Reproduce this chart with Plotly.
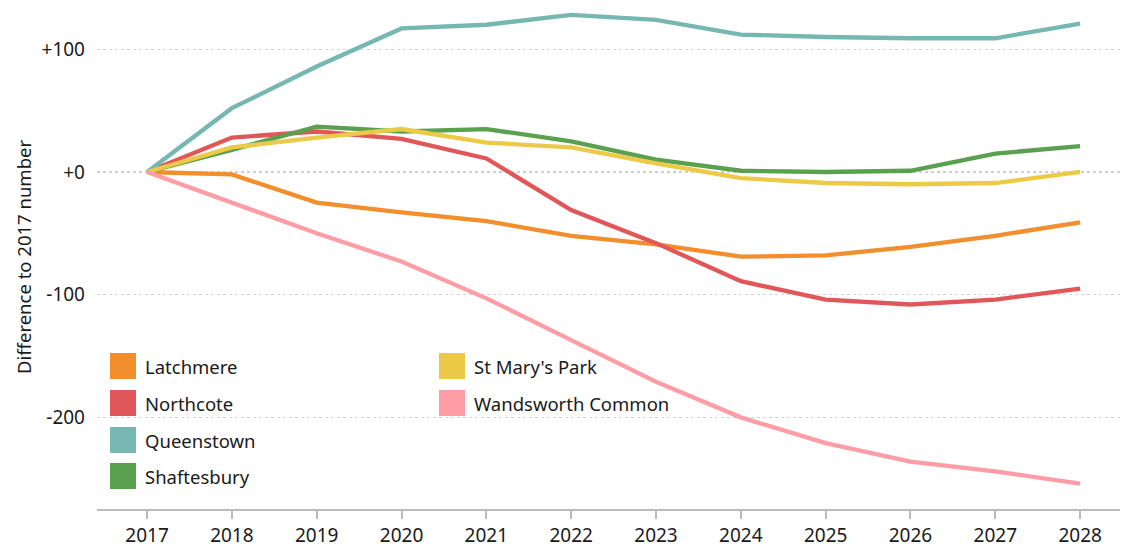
import plotly.graph_objects as go

years = [2017, 2018, 2019, 2020, 2021, 2022, 2023, 2024, 2025, 2026, 2027, 2028]

series_names = ["Latchmere", "Northcote", "Queenstown", "Shaftesbury", "St Mary's Park", "Wandsworth Common"]
series_colors = ["#f28e2b", "#e15759", "#76b7b2", "#59a14f", "#edc948", "#ff9da7"]

latchmere = [0, -2, -25, -33, -40, -52, -59, -69, -68, -61, -52, -41]
northcote = [0, 28, 33, 27, 11, -31, -58, -89, -104, -108, -104, -95]
queenstown = [0, 52, 86, 117, 120, 128, 124, 112, 110, 109, 109, 121]
shaftesbury = [0, 18, 37, 33, 35, 25, 10, 1, 0, 1, 15, 21]
st_marys_park = [0, 20, 28, 35, 24, 20, 7, -5, -9, -10, -9, 0]
wandsworth_common = [0, -25, -50, -73, -103, -137, -171, -200, -221, -236, -244, -254]

series_values = [latchmere, northcote, queenstown, shaftesbury, st_marys_park, wandsworth_common]

y_tickvals = [100, 0, -100, -200]
y_ticktext = ["+100", "+0", "-100", "-200"]

FONT = "Noto Sans"
TXT = "#1a1a1a"

fig = go.Figure()
for name, color, vals in zip(series_names, series_colors, series_values):
    fig.add_trace(go.Scatter(
        x=years, y=vals, name=name, mode="lines",
        line=dict(color=color, width=4.3),
        showlegend=False, hoverinfo="skip",
    ))

# manual legend (two columns)
PLOT_L, PLOT_W, PLOT_T, PLOT_H = 97, 1023, 5, 504
legend_cols = [(110, [0, 1, 2, 3]), (439, [4, 5])]
row_y = [366, 403, 440, 476]
for xpx, idxs in legend_cols:
    for r, i in enumerate(idxs):
        yc = 1 - (row_y[r] - PLOT_T) / PLOT_H
        hh = 13 / PLOT_H
        x0 = (xpx - PLOT_L) / PLOT_W
        fig.add_shape(type="rect", xref="paper", yref="paper",
                      x0=x0, x1=x0 + 26 / PLOT_W, y0=yc - hh, y1=yc + hh,
                      fillcolor=series_colors[i], line=dict(width=0), layer="above")
        fig.add_annotation(xref="paper", yref="paper", x=x0 + 33 / PLOT_W, y=yc,
                           text=series_names[i], showarrow=False, xanchor="left",
                           yanchor="middle", font=dict(family=FONT, size=18.5, color=TXT))

# zero reference line
fig.add_shape(type="line", xref="paper", yref="y", x0=0, x1=1, y0=0, y1=0,
              line=dict(color="#999999", width=1.2, dash="3px,3px"), layer="below")

fig.update_layout(
    width=1122, height=547,
    margin=dict(l=PLOT_L, r=1122 - PLOT_L - PLOT_W, t=PLOT_T, b=547 - PLOT_T - PLOT_H, autoexpand=False),
    paper_bgcolor="white", plot_bgcolor="white",
    font=dict(family=FONT, size=19, color=TXT),
    showlegend=False,
    hovermode=False,
    xaxis=dict(
        range=[2016.41, 2028.47],
        tickvals=years, ticktext=[str(y) for y in years],
        showgrid=False, zeroline=False, automargin=False,
        showline=True, linecolor="#bbbbbb", linewidth=1.5,
        ticks="outside", ticklen=8, tickcolor="#bbbbbb", tickwidth=1.5,
        tickfont=dict(size=19, color=TXT),
    ),
    yaxis=dict(
        range=[-274.7, 136.1],
        tickvals=y_tickvals, ticktext=y_ticktext,
        showgrid=True, gridcolor="#d3d3d3", griddash="3px,3px", gridwidth=1,
        zeroline=False, showline=False, ticks="", automargin=False,
        ticklabelstandoff=11,
        tickfont=dict(size=19, color=TXT),
        title=dict(text="Difference to 2017 number", font=dict(size=18.5, color=TXT), standoff=5),
    ),
)

fig.write_html("out.html", config={"displayModeBar": False},
               post_script="document.body.style.margin='0';document.body.style.overflow='hidden';")
